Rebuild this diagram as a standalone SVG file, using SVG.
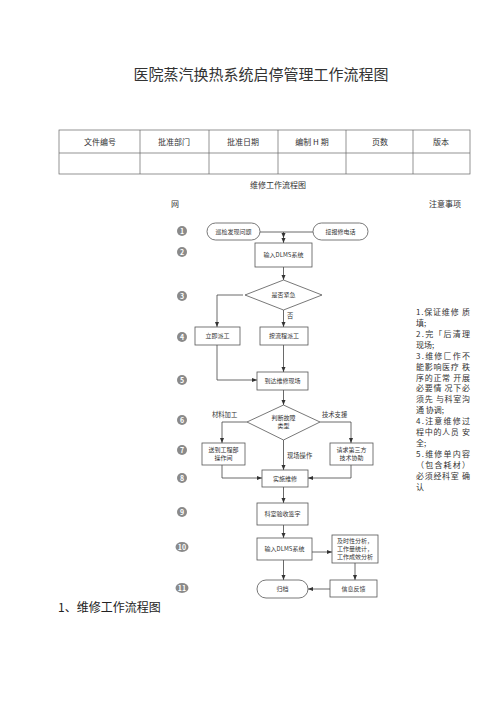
<svg xmlns="http://www.w3.org/2000/svg" width="500" height="707" viewBox="0 0 500 707">
<defs>
<marker id="ah" viewBox="0 0 10 10" refX="10" refY="5" markerWidth="5" markerHeight="5" orient="auto" markerUnits="userSpaceOnUse">
<path d="M0,1 L10,5 L0,9 z" fill="#333"/>
</marker>
<style>
text{font-family:"Noto Sans CJK SC","Liberation Serif",serif;fill:#333}
.t{font-size:15px}
.h{font-size:8px;text-anchor:middle}
.n{font-size:6px;text-anchor:middle}
.l{font-size:6.3px}
.note{font-size:8px}
.box{fill:#fff;stroke:#555;stroke-width:0.8}
.c{fill:#8a8a8a}
.cn{font-size:7px;fill:#fff;text-anchor:middle;font-weight:bold}
.ln{fill:none;stroke:#444;stroke-width:0.8}
.tb{fill:none;stroke:#666;stroke-width:0.7}
</style>
</defs>
<rect width="500" height="707" fill="#fff"/>
<text class="t" x="261" y="80" text-anchor="middle">医院蒸汽换热系统启停管理工作流程图</text>

<g id="table">
<rect class="tb" x="59" y="130" width="411" height="44"/>
<line class="tb" x1="59" y1="153" x2="470" y2="153"/>
<line class="tb" x1="140" y1="130" x2="140" y2="174"/>
<line class="tb" x1="209" y1="130" x2="209" y2="174"/>
<line class="tb" x1="278" y1="130" x2="278" y2="174"/>
<line class="tb" x1="346" y1="130" x2="346" y2="174"/>
<line class="tb" x1="413" y1="130" x2="413" y2="174"/>
<text class="h" x="100" y="145">文件编号</text>
<text class="h" x="174" y="145">批准部门</text>
<text class="h" x="243" y="145">批准日期</text>
<text class="h" x="312" y="145">编制 H 期</text>
<text class="h" x="380" y="145">页数</text>
<text class="h" x="441" y="145">版本</text>
</g>

<text class="h" x="278" y="188">维修工作流程图</text>
<text class="h" x="175" y="207">网</text>
<text class="h" x="445" y="207">注意事项</text>

<g id="steps">
<circle class="c" cx="182" cy="231" r="5"/><text class="cn" x="182" y="233.5">1</text>
<circle class="c" cx="182" cy="252" r="5"/><text class="cn" x="182" y="254.5">2</text>
<circle class="c" cx="182" cy="296" r="5"/><text class="cn" x="182" y="298.5">3</text>
<circle class="c" cx="182" cy="337" r="5"/><text class="cn" x="182" y="339.5">4</text>
<circle class="c" cx="182" cy="380" r="5"/><text class="cn" x="182" y="382.5">5</text>
<circle class="c" cx="182" cy="420" r="5"/><text class="cn" x="182" y="422.5">6</text>
<circle class="c" cx="182" cy="450" r="5"/><text class="cn" x="182" y="452.5">7</text>
<circle class="c" cx="182" cy="478" r="5"/><text class="cn" x="182" y="480.5">8</text>
<circle class="c" cx="182" cy="512" r="5"/><text class="cn" x="182" y="514.5">9</text>
<ellipse class="c" cx="182" cy="547" rx="6.5" ry="5"/><text class="cn" x="182" y="549.5">10</text>
<ellipse class="c" cx="182" cy="588" rx="6.5" ry="5"/><text class="cn" x="182" y="590.5">11</text>
</g>

<g id="connectors">
<line class="ln" x1="260" y1="232" x2="313" y2="232"/>
<line class="ln" x1="283.5" y1="232" x2="283.5" y2="238" marker-end="url(#ah)"/>
<line class="ln" x1="283.5" y1="238" x2="283.5" y2="243" marker-end="url(#ah)"/>
<line class="ln" x1="283.5" y1="267" x2="283.5" y2="280" marker-end="url(#ah)"/>
<polyline class="ln" points="243,295 217,295 217,327" marker-end="url(#ah)"/>
<line class="ln" x1="283.5" y1="310" x2="283.5" y2="327" marker-end="url(#ah)"/>
<line class="ln" x1="283.5" y1="345" x2="283.5" y2="372" marker-end="url(#ah)"/>
<polyline class="ln" points="217,345 217,380 257,380" marker-end="url(#ah)"/>
<line class="ln" x1="283.5" y1="390" x2="283.5" y2="405" marker-end="url(#ah)"/>
<polyline class="ln" points="247,422 222,422 222,443" marker-end="url(#ah)"/>
<polyline class="ln" points="320,422 351,422 351,443" marker-end="url(#ah)"/>
<line class="ln" x1="283.5" y1="440" x2="283.5" y2="470" marker-end="url(#ah)"/>
<polyline class="ln" points="222,465 222,478 262,478" marker-end="url(#ah)"/>
<polyline class="ln" points="351,465 351,478 308,478" marker-end="url(#ah)"/>
<line class="ln" x1="283.5" y1="487" x2="283.5" y2="503" marker-end="url(#ah)"/>
<line class="ln" x1="283.5" y1="525" x2="283.5" y2="538" marker-end="url(#ah)"/>
<line class="ln" x1="312" y1="552" x2="332" y2="552" marker-end="url(#ah)"/>
<line class="ln" x1="355" y1="563" x2="355" y2="580" marker-end="url(#ah)"/>
<line class="ln" x1="330" y1="589" x2="308" y2="589" marker-end="url(#ah)"/>
<line class="ln" x1="283.5" y1="560" x2="283.5" y2="580" marker-end="url(#ah)"/>
<text class="l" x="287" y="318">否</text>
<text class="l" x="212" y="417">材料加工</text>
<text class="l" x="322" y="417">技术支援</text>
<text class="l" x="287" y="458">现场操作</text>
</g>

<g id="n1"><rect class="box" x="207" y="223" width="53" height="17" rx="8.5"/><text class="n" x="233.5" y="234">巡检发现问题</text></g>
<g id="n2"><rect class="box" x="313" y="223" width="55" height="17" rx="8.5"/><text class="n" x="340.5" y="234">接报修电话</text></g>
<g id="n3"><rect class="box" x="255" y="243" width="57" height="24"/><text class="n" x="283.5" y="257">输入DLMS系统</text></g>
<g id="n4"><polygon class="box" points="283.5,280 322,295 283.5,310 245,295"/><text class="n" x="283.5" y="297">是否紧急</text></g>
<g id="n5"><rect class="box" x="195" y="327" width="45" height="18"/><text class="n" x="217.5" y="338">立即派工</text></g>
<g id="n6"><rect class="box" x="260" y="327" width="48" height="18"/><text class="n" x="284" y="338">按流程派工</text></g>
<g id="n7"><rect class="box" x="257" y="372" width="51" height="18"/><text class="n" x="282.5" y="383">到达维修现场</text></g>
<g id="n8"><polygon class="box" points="283.5,405 320,422 283.5,440 247,422"/><text class="n" x="283.5" y="420">判断故障</text><text class="n" x="283.5" y="428">类型</text></g>
<g id="n9"><rect class="box" x="202" y="443" width="43" height="22"/><text class="n" x="223.5" y="452">送到工程部</text><text class="n" x="223.5" y="460">操作间</text></g>
<g id="n10"><rect class="box" x="330" y="443" width="43" height="22"/><text class="n" x="351.5" y="452">请求第三方</text><text class="n" x="351.5" y="460">技术协助</text></g>
<g id="n11"><rect class="box" x="262" y="470" width="46" height="17"/><text class="n" x="285" y="481">实施维修</text></g>
<g id="n12"><rect class="box" x="257" y="503" width="51" height="22"/><text class="n" x="282.5" y="516">科室验收签字</text></g>
<g id="n13"><rect class="box" x="257" y="538" width="55" height="22"/><text class="n" x="284.5" y="551">输入DLMS系统</text></g>
<g id="n14"><rect class="box" x="332" y="535" width="46" height="28"/><text class="n" x="355" y="543">及时性分析，</text><text class="n" x="355" y="551">工作量统计，</text><text class="n" x="355" y="559">工作成效分析</text></g>
<g id="n15"><rect class="box" x="330" y="580" width="47" height="17"/><text class="n" x="353.5" y="591">信息反馈</text></g>
<g id="n16"><rect class="box" x="257" y="580" width="51" height="18" rx="9"/><text class="n" x="282.5" y="591">归档</text></g>

<g id="notes">
<text class="note" x="416" y="315" textLength="54">1.保证维修 质</text>
<text class="note" x="416" y="326">填;</text>
<text class="note" x="416" y="337" textLength="54">2.完「后清理</text>
<text class="note" x="416" y="348">现场;</text>
<text class="note" x="416" y="359" textLength="54">3.维修匚作不</text>
<text class="note" x="416" y="370" textLength="54">能影响医疗 秩</text>
<text class="note" x="416" y="381" textLength="54">序的正常 开展</text>
<text class="note" x="416" y="391" textLength="54">必要情 况下必</text>
<text class="note" x="416" y="402" textLength="54">须先 与科室沟</text>
<text class="note" x="416" y="413">通 协调;</text>
<text class="note" x="416" y="424" textLength="54">4.注意维修过</text>
<text class="note" x="416" y="435" textLength="54">程中的人员 安</text>
<text class="note" x="416" y="446">全;</text>
<text class="note" x="416" y="457" textLength="54">5.维修单内容</text>
<text class="note" x="416" y="468" textLength="54">（包含耗材）</text>
<text class="note" x="416" y="479" textLength="54">必须经科室 确</text>
<text class="note" x="416" y="490">认</text>
</g>

<text x="58" y="612" style="font-size:12px;fill:#222">1、维修工作流程图</text>
</svg>
